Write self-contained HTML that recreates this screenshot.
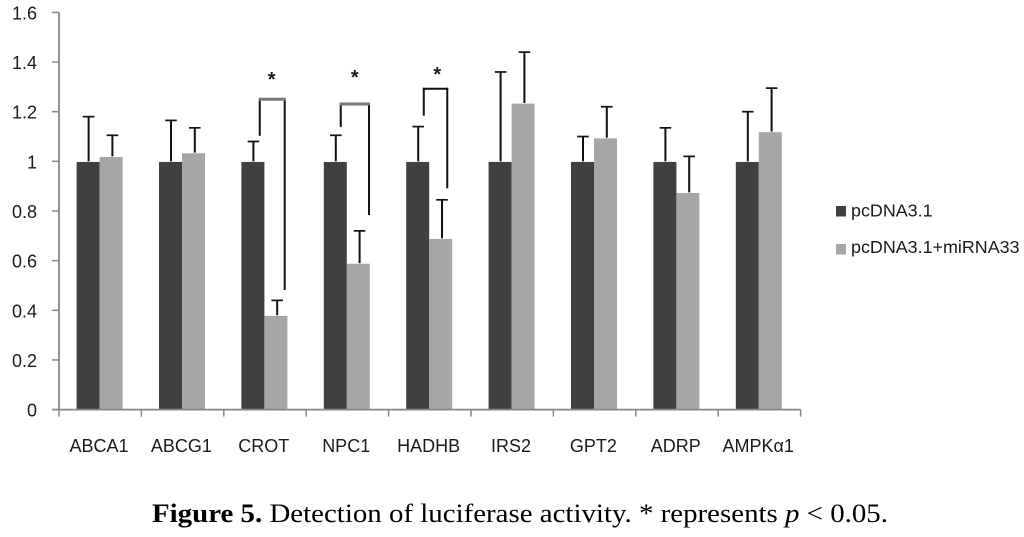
<!DOCTYPE html>
<html>
<head>
<meta charset="utf-8">
<title>Figure 5</title>
<style>
html,body{margin:0;padding:0;background:#fff;width:1024px;height:537px;overflow:hidden}
svg{display:block;filter:blur(0.35px)}
text{font-family:"Liberation Sans",sans-serif;fill:#1a1a1a}
.cap{font-family:"Liberation Serif",serif;fill:#000}
</style>
</head>
<body>
<svg id="chart" width="1024" height="537" viewBox="0 0 1024 537" xmlns="http://www.w3.org/2000/svg">
<g id="layer"></g>
<text class="cap" x="152" y="522" font-size="26" textLength="736" lengthAdjust="spacingAndGlyphs"><tspan font-weight="bold">Figure 5.</tspan> Detection of luciferase activity. * represents <tspan font-style="italic">p</tspan> &lt; 0.05.</text>
</svg>
<script>
const categories = ['ABCA1','ABCG1','CROT','NPC1','HADHB','IRS2','GPT2','ADRP','AMPKα1'];
const controlValues = [1,1,1,1,1,1,1,1,1];
const controlErrorTops = [1.18,1.165,1.08,1.105,1.14,1.36,1.10,1.135,1.20];
const mirnaValues = [1.02,1.035,0.38,0.59,0.69,1.235,1.095,0.875,1.12];
const mirnaErrorTops = [1.105,1.135,0.44,0.72,0.845,1.44,1.22,1.02,1.295];
const yTicks = [0,0.2,0.4,0.6,0.8,1,1.2,1.4,1.6];
const seriesNames = ['pcDNA3.1','pcDNA3.1+miRNA33'];
// significance annotations, in data units (x = category index, y = value)
const sigLeftCategory = [1.936,2.919,3.927];
const sigRightCategory = [2.239,3.262,4.212];
const sigStarCategory = [2.081,3.089,4.09];
const sigTops = [1.25,1.231,1.2926];
const sigLeftEnds = [1.103,1.138,1.184];
const sigRightEnds = [0.482,0.784,0.891];
const sigStarLevels = [1.339,1.347,1.36];

const svg = document.getElementById('layer');
const NS = 'http://www.w3.org/2000/svg';
const plotLeft = 59, plotRight = 800.6, plotBottom = 409.6, plotTop = 12.4, yMax = 1.6;
const barW = 23;
const DARK = '#404040', LIGHT = '#a6a6a6', AXIS = '#868686', ERR = '#111111';
const step = (plotRight - plotLeft) / categories.length;
const xScale = i => plotLeft + step * (i + 0.5);
const yScale = v => plotBottom - (v / yMax) * (plotBottom - plotTop);

function make(tag, attrs, parent) {
  const el = document.createElementNS(NS, tag);
  for (const k in attrs) el.setAttribute(k, attrs[k]);
  (parent || svg).appendChild(el);
  return el;
}
function line(x1, y1, x2, y2, color, w, parent) {
  return make('line', {x1, y1, x2, y2, stroke: color, 'stroke-width': w}, parent);
}

// y ticks and labels
yTicks.forEach(t => {
  const y = yScale(t);
  const tick = line(52, y, plotLeft, y, AXIS, 1.5);
  
  
  const lab = make('text', {x: 37, y: y + 7, 'text-anchor': 'end', 'font-size': 18});
  lab.textContent = String(t);
  
  
});

// bars
categories.forEach((c, i) => {
  const cx = xScale(i) - 0.6;
  const a = make('rect', {x: cx - barW, y: yScale(controlValues[i]) + 0.6, width: barW, height: plotBottom - yScale(controlValues[i]) - 0.6, fill: DARK});
  
  
  const b = make('rect', {x: cx, y: yScale(mirnaValues[i]) + 0.6, width: barW, height: plotBottom - yScale(mirnaValues[i]) - 0.6, fill: LIGHT});
  
  
});

// error bars
categories.forEach((c, i) => {
  const cx = xScale(i) - 0.6;
  const g1 = make('g', {});
  
  
  const x1 = cx - 11;
  line(x1, yScale(controlValues[i]), x1, yScale(controlErrorTops[i]), ERR, 2, g1);
  line(x1 - 5.8, yScale(controlErrorTops[i]), x1 + 5.8, yScale(controlErrorTops[i]), ERR, 1.7, g1);
  const g2 = make('g', {});
  
  
  const x2 = cx + 12.8;
  line(x2, yScale(mirnaValues[i]), x2, yScale(mirnaErrorTops[i]), ERR, 2, g2);
  line(x2 - 5.8, yScale(mirnaErrorTops[i]), x2 + 5.8, yScale(mirnaErrorTops[i]), ERR, 1.7, g2);
});

// axes
const yAxis = line(plotLeft, plotTop, plotLeft, plotBottom, AXIS, 1.8);


const xAxis = line(52, plotBottom, plotRight, plotBottom, AXIS, 1.8);


for (let i = 0; i <= categories.length; i++) {
  const x = plotLeft + step * i;
  const t = line(x, plotBottom, x, plotBottom + 7, AXIS, 1.5);
  
  
}
categories.forEach((c, i) => {
  const lab = make('text', {x: xScale(i) - 1.2, y: 452, 'text-anchor': 'middle', 'font-size': 18});
  lab.textContent = c;
  
  
});

// significance brackets (x positions are category indices, mapped through the same axis)
const xCat = c => plotLeft + step * (c + 0.5);
sigTops.forEach((top, k) => {
  const xl = xCat(sigLeftCategory[k]), xr = xCat(sigRightCategory[k]);
  const yt = yScale(top);
  const g = make('g', {});
  
  
  line(xl, yScale(sigLeftEnds[k]), xl, yt - 1, ERR, 2, g);
  line(xr, yScale(sigRightEnds[k]), xr, yt - 1, ERR, 2, g);
  if (k < 2) {
    line(xl - 1, yt, xr + 1, yt, '#777777', 3, g);
  } else {
    line(xl - 1, yt, xr + 1, yt, ERR, 2, g);
  }
  const star = make('text', {x: xCat(sigStarCategory[k]), y: yScale(sigStarLevels[k]) + 9, 'text-anchor': 'middle', 'font-size': 20, 'font-weight': 'bold'}, g);
  star.textContent = '*';
  
  
});

// legend
seriesNames.forEach((n, i) => {
  const g = make('g', {});
  
  
  make('rect', {x: 836, y: 206 + i * 38, width: 10, height: 10.5, fill: i === 0 ? DARK : LIGHT}, g);
  const t = make('text', {x: 851, y: 216.5 + i * 36.7, 'font-size': 17.9}, g);
  t.textContent = n;
});
</script>
</body>
</html>
